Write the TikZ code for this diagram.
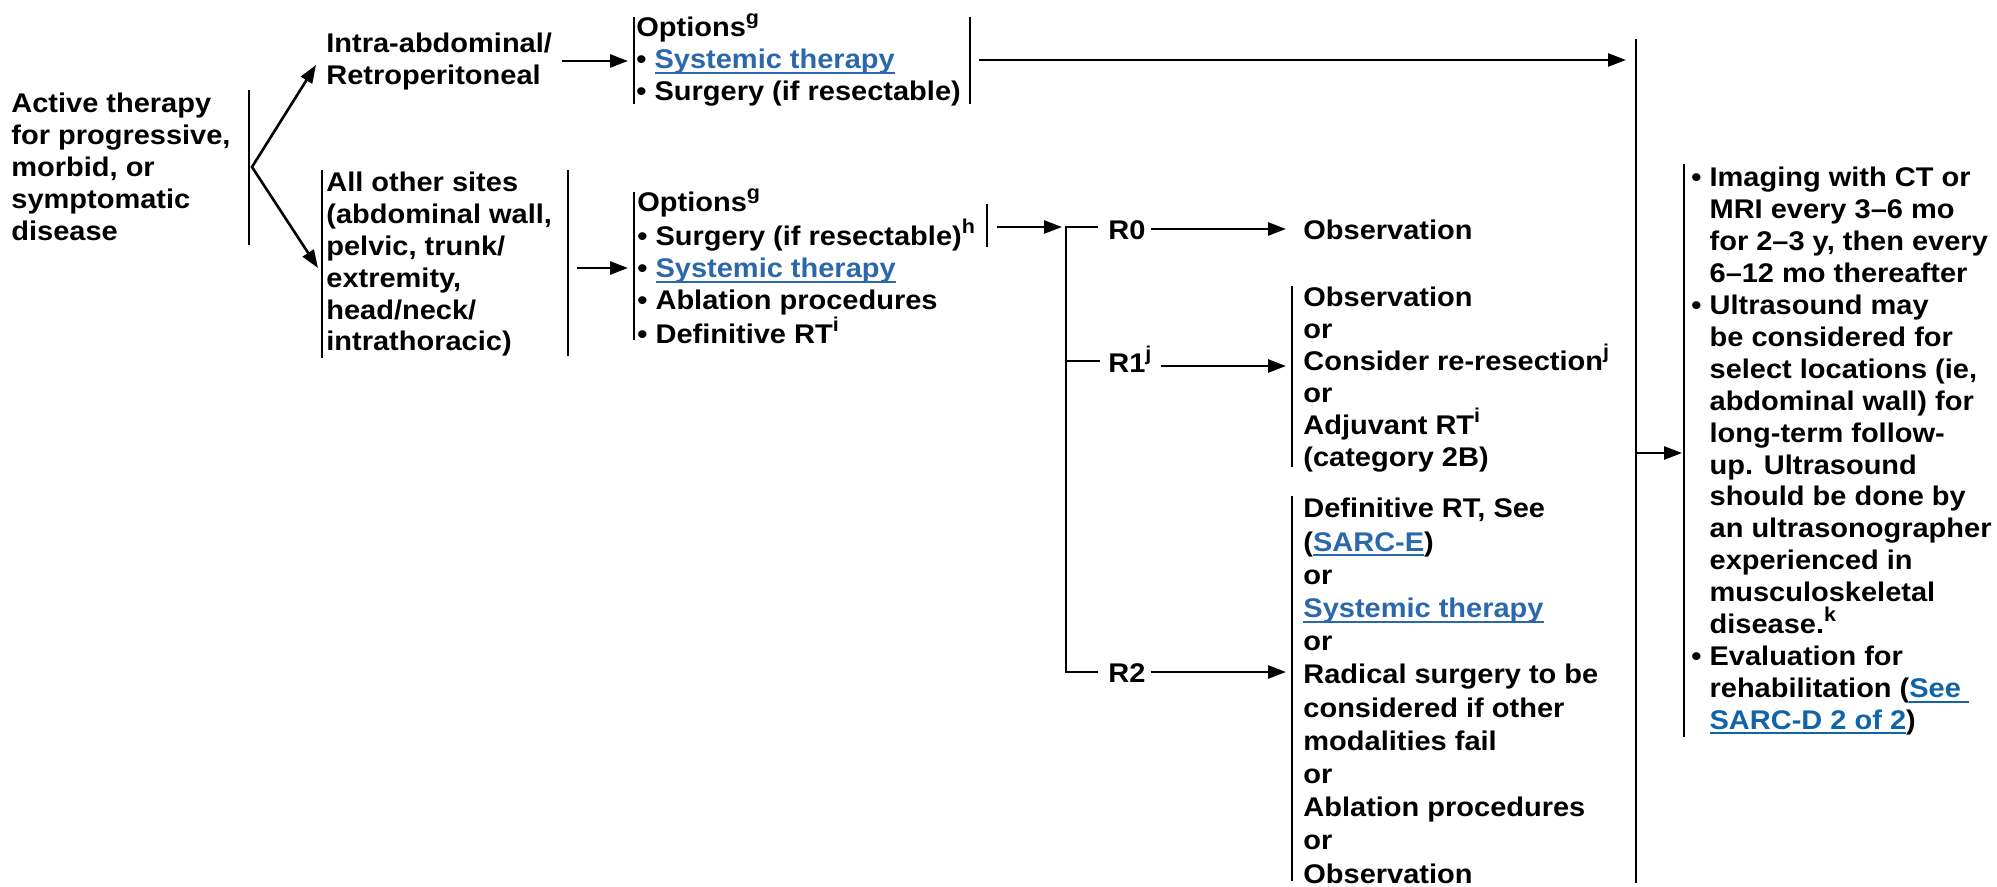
\documentclass[tikz,border=0pt]{standalone}
\usepackage{fontspec}
\setmainfont{Liberation Sans}[FakeStretch=1.074]
\usetikzlibrary{arrows.meta}

\definecolor{linkblue}{RGB}{43,104,171}
\definecolor{linkbluealt}{RGB}{16,101,168}

% first-line strut: fixes the distance from a node's top to its first baseline
\newcommand\fs{\rule{0pt}{15pt}}
% underlined link text in a given colour
\newcommand\ulink[2]{{\color{#1}\setbox0\hbox{#2}\rlap{\rule[-2.6pt]{\wd0}{1pt}}\box0}}
\newcommand\lnk[1]{\ulink{linkblue}{#1}}
\newcommand\lnkb[1]{\ulink{linkbluealt}{#1}}
% footnote marks
\newcommand\sps[1]{\raisebox{6pt}{\fontsize{10}{10}\selectfont #1}}
\newcommand\ind{\hphantom{•\ }}

\tikzset{
  txt/.style={anchor=north west, inner sep=0pt, align=left,
    font=\fontsize{13.5}{15.9}\selectfont\bfseries},
  bar/.style={line width=1.3pt},
  arr/.style={line width=1.3pt, -{Triangle[length=9pt,width=6.5pt]}},
}

\begin{document}
\begin{tikzpicture}[x=0.5pt,y=-0.5pt]
\useasboundingbox (0,0) rectangle (1997,887);

% ---------- text ----------
\node[txt] (act) at (11,82.5) {\fs Active therapy\\for progressive,\\morbid, or\\symptomatic\\disease};
\node[txt] (intra) at (326,22.5) {\fs Intra-abdominal/\\Retroperitoneal};
\node[txt] (other) at (326,161.5) {\fs All other sites\\(abdominal wall,\\pelvic, trunk/\\extremity,\\head/neck/\\intrathoracic)};
\node[txt] (opt1) at (636,6.5) {\fs Options\sps{g}\\• \lnk{Systemic therapy}\\• Surgery (if resectable)};
\node[txt] (opt2) at (637,181.5) {\fs Options\sps{g}\\• Surgery (if resectable)\sps{h}\\• \lnk{Systemic therapy}\\• Ablation procedures\\• Definitive RT\sps{i}};
\node[txt] (r0) at (1108,209.5) {\fs R0};
\node[txt] (obs0) at (1303,209.5) {\fs Observation};
\node[txt] (r1) at (1108,342) {\fs R1\sps{j}};
\node[txt, font=\fontsize{13.5}{16}\selectfont\bfseries] (r1opts) at (1303,276.5)
  {\fs Observation\\or\\Consider re-resection\sps{j}\\or\\Adjuvant RT\sps{i}\\(category 2B)};
\node[txt] (r2) at (1108,652) {\fs R2};
\node[txt, font=\fontsize{13.5}{16.6}\selectfont\bfseries] (r2opts) at (1303,487.5)
  {\fs Definitive RT, See\\(\lnk{SARC-E})\\or\\\lnk{Systemic therapy}\\or\\Radical surgery to be\\considered if other\\modalities fail\\or\\Ablation procedures\\or\\Observation};
\node[txt, font=\fontsize{13.5}{15.95}\selectfont\bfseries] (follow) at (1691,156.5)
  {\fs • Imaging with CT or\\\ind MRI every 3–6 mo\\\ind for 2–3 y, then every\\\ind 6–12 mo thereafter\\%
   • Ultrasound may\\\ind be considered for\\\ind select locations (ie,\\\ind abdominal wall) for\\%
   \ind long-term follow-\\\ind up. Ultrasound\\\ind should be done by\\\ind an ultrasonographer\\%
   \ind experienced in\\\ind musculoskeletal\\\ind disease.\sps{k}\\%
   • Evaluation for\\\ind rehabilitation (\lnkb{See\ }\\\ind \lnkb{SARC-D 2 of 2})};

% ---------- bar and arrow end points ----------
\coordinate (actBarT) at (249,90);   \coordinate (actBarB) at (249,245);
\coordinate (fork) at (252,167);
\coordinate (intraIn) at (316,65);   \coordinate (otherIn) at (318,268);
\coordinate (otherBarLT) at (322,170); \coordinate (otherBarLB) at (322,358);
\coordinate (otherBarRT) at (568,170); \coordinate (otherBarRB) at (568,356);
\coordinate (intraOut) at (562,61);  \coordinate (opt1In) at (628,61);
\coordinate (opt1BarLT) at (634,17); \coordinate (opt1BarLB) at (634,104);
\coordinate (opt1BarRT) at (970,17); \coordinate (opt1BarRB) at (970,104);
\coordinate (opt1Out) at (979,60);   \coordinate (followTopIn) at (1626,60);
\coordinate (bigT) at (1636,39);     \coordinate (bigB) at (1636,883);
\coordinate (otherOut) at (577,268); \coordinate (opt2In) at (628,268);
\coordinate (opt2BarT) at (634,192); \coordinate (opt2BarB) at (634,340);
\coordinate (surgBarT) at (987,204); \coordinate (surgBarB) at (987,247);
\coordinate (surgOut) at (997,227);  \coordinate (brIn) at (1062,227);
\coordinate (brT) at (1066,227);     \coordinate (brM) at (1066,361);
\coordinate (brB) at (1066,672);
\coordinate (r0Stub) at (1098,227);  \coordinate (r1Stub) at (1100,361);
\coordinate (r2Stub) at (1098,672);
\coordinate (r0Out) at (1151,229);   \coordinate (obs0In) at (1286,229);
\coordinate (r1Out) at (1161,366);   \coordinate (r1optsIn) at (1286,366);
\coordinate (r1BarT) at (1292,286);  \coordinate (r1BarB) at (1292,467);
\coordinate (r2Out) at (1151,672);   \coordinate (r2optsIn) at (1286,672);
\coordinate (r2BarT) at (1292,496);  \coordinate (r2BarB) at (1292,881);
\coordinate (bigOut) at (1636,453);  \coordinate (followIn) at (1682,453);
\coordinate (followBarT) at (1684,164); \coordinate (followBarB) at (1684,737);

% ---------- bars ----------
\draw[bar] (actBarT) -- (actBarB);
\draw[bar] (otherBarLT) -- (otherBarLB);
\draw[bar] (otherBarRT) -- (otherBarRB);
\draw[bar] (opt1BarLT) -- (opt1BarLB);
\draw[bar] (opt1BarRT) -- (opt1BarRB);
\draw[bar] (opt2BarT) -- (opt2BarB);
\draw[bar] (surgBarT) -- (surgBarB);
\draw[bar] (bigT) -- (bigB);
\draw[bar] (r1BarT) -- (r1BarB);
\draw[bar] (r2BarT) -- (r2BarB);
\draw[bar] (followBarT) -- (followBarB);

% ---------- connectors ----------
\draw[line width=1.3pt, {Triangle[length=9pt,width=6.5pt]}-{Triangle[length=9pt,width=6.5pt]}]
  (intraIn) -- (fork) -- (otherIn);
\draw[arr] (intraOut) -- (opt1In);
\draw[arr] (otherOut) -- (opt2In);
\draw[arr] (opt1Out) -- (followTopIn);
\draw[arr] (surgOut) -- (brIn);
\draw[bar] (r0Stub) -- (brT) -- (brB) -- (r2Stub);
\draw[bar] (brM) -- (r1Stub);
\draw[arr] (r0Out) -- (obs0In);
\draw[arr] (r1Out) -- (r1optsIn);
\draw[arr] (r2Out) -- (r2optsIn);
\draw[arr] (bigOut) -- (followIn);
\end{tikzpicture}
\end{document}
